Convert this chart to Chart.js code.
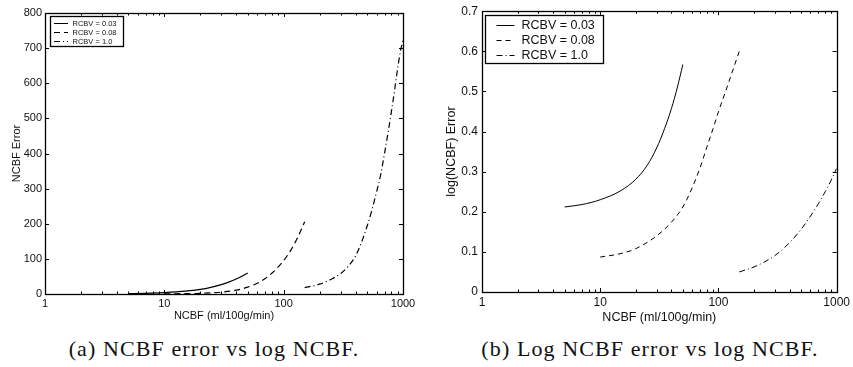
<!DOCTYPE html>
<html>
<head>
<meta charset="utf-8">
<script src="https://cdn.jsdelivr.net/npm/chart.js@4"></script>
<style>
  body { margin: 0; background: #fff; width: 853px; height: 367px; position: relative; overflow: hidden; }
  canvas { position: absolute; top: 0; }
  .cap { position: absolute; top: 338px; font-family: "Liberation Serif", serif; font-size: 22px; line-height: 22px;
         letter-spacing: 1.1px; color: #111; white-space: nowrap; transform: translateX(-50%); }
</style>
</head>
<body>
<canvas id="chartA" width="430" height="323" style="left:0"></canvas>
<canvas id="chartB" width="423" height="325" style="left:430px"></canvas>
<div class="cap" style="left:214px">(a) NCBF error vs log NCBF.</div>
<div class="cap" style="left:650px">(b) Log NCBF error vs log NCBF.</div>
<script>
"use strict"

// ---- data ----
const seriesLabels = ['RCBV = 0.03', 'RCBV = 0.08', 'RCBV = 1.0']
const xTickVals = [1, 10, 100, 1000]

// (a) NCBF error
const ncbfA1 = [5, 7, 10, 15, 20, 25, 30, 35, 40, 45, 50]
const errA1  = [1, 2, 4, 8, 13, 19.7, 26.8, 34.5, 42.6, 51, 60]
const ncbfA2 = [10, 15, 20, 30, 40, 50, 60, 70, 80, 90, 100, 110, 120, 130, 140, 150]
const errA2  = [0.5, 1, 2, 5.2, 10.8, 19.5, 30.6, 44, 59.7, 77, 95.4, 114.7, 136, 158.8, 182.2, 206]
const ncbfA3 = [150, 200, 250, 300, 350, 400, 450, 500, 550, 600, 650, 700, 750, 800, 850, 900, 950, 1000]
const errA3  = [18, 28, 42, 58, 80, 108, 148, 193, 240, 290, 340, 400, 460, 520, 580, 640, 690, 722]
const yTicksA = [0, 100, 200, 300, 400, 500, 600, 700, 800]

// (b) log(NCBF) error
const ncbfB1 = [5, 7, 10, 15, 20, 25, 30, 35, 40, 45, 50]
const errB1  = [0.212, 0.218, 0.230, 0.253, 0.281, 0.316, 0.359, 0.407, 0.457, 0.511, 0.567]
const ncbfB2 = [10, 15, 20, 30, 40, 50, 60, 70, 80, 90, 100, 120, 150]
const errB2  = [0.087, 0.096, 0.108, 0.140, 0.174, 0.212, 0.260, 0.310, 0.362, 0.407, 0.449, 0.516, 0.600]
const ncbfB3 = [150, 200, 300, 400, 500, 600, 700, 800, 900, 1000]
const errB3  = [0.050, 0.0625, 0.0907, 0.1232, 0.156, 0.189, 0.220, 0.250, 0.279, 0.308]
const yTicksB = [0, 0.1, 0.2, 0.3, 0.4, 0.5, 0.6, 0.7]

const FONT = "'Liberation Sans', Arial, sans-serif"

function pts(xs, ys){
    return xs.map((v, i) => ({x: v, y: ys[i]}))
}

// matlab style box with inward ticks on all four sides
const boxTicks = {
    id: 'boxTicks',
    afterDatasetsDraw(chart){
        const ctx = chart.ctx
        const a = chart.chartArea
        const sx = chart.scales.x, sy = chart.scales.y
        ctx.save()
        ctx.strokeStyle = '#000'
        ctx.lineWidth = 1
        ctx.beginPath()
        for (const t of sy.ticks){
            const py = Math.round(sy.getPixelForValue(t.value)) + 0.5
            ctx.moveTo(a.left, py); ctx.lineTo(a.left + 4, py)
            ctx.moveTo(a.right, py); ctx.lineTo(a.right - 4, py)
        }
        for (let d = 1; d <= 1000; d *= 10){
            for (let m = 1; m < 10; m++){
                const v = d * m
                if (v > 1000) break
                const px = Math.round(sx.getPixelForValue(v)) + 0.5
                const len = m == 1 ? 4 : 2.5
                ctx.moveTo(px, a.bottom); ctx.lineTo(px, a.bottom - len)
                ctx.moveTo(px, a.top); ctx.lineTo(px, a.top + len)
            }
        }
        ctx.stroke()
        ctx.lineWidth = 1.3
        ctx.strokeRect(Math.round(a.left) + 0.5, Math.round(a.top) + 0.5, Math.round(a.width), Math.round(a.height))
        ctx.restore()
    }
}

// legend box drawn inside the top-left corner of the plot
const boxLegend = {
    id: 'boxLegend',
    afterDatasetsDraw(chart, args, o){
        const ctx = chart.ctx
        const a = chart.chartArea
        const x0 = Math.round(a.left + o.dx), y0 = Math.round(a.top + o.dy)
        ctx.save()
        ctx.fillStyle = '#fff'
        ctx.fillRect(x0, y0, o.w, o.h)
        ctx.strokeStyle = '#000'
        ctx.lineWidth = 1.3
        ctx.strokeRect(x0 + 0.5, y0 + 0.5, o.w, o.h)
        ctx.font = o.font
        ctx.textBaseline = 'middle'
        chart.data.datasets.forEach((ds, i) => {
            const yy = Math.round(y0 + o.row0 + i * o.rowH) + 0.5
            ctx.setLineDash(ds.borderDash || [])
            ctx.lineWidth = 1
            ctx.beginPath()
            ctx.moveTo(x0 + o.lx, yy)
            ctx.lineTo(x0 + o.lx + o.lw, yy)
            ctx.stroke()
            ctx.setLineDash([])
            ctx.fillStyle = '#111'
            ctx.fillText(ds.label, x0 + o.tx, yy + 0.5)
        })
        ctx.restore()
    }
}

function makeChart(id, data, cfg){
    const dashes = [[], cfg.dash, [6, 3, 1, 3]]
    return new Chart(document.getElementById(id), {
        type: 'line',
        data: {
            datasets: data.map((d, i) => ({
                label: seriesLabels[i],
                data: d,
                borderColor: '#000',
                borderWidth: cfg.lw,
                borderDash: dashes[i],
                pointRadius: 0,
                cubicInterpolationMode: 'monotone',
                fill: false
            }))
        },
        options: {
            responsive: false,
            animation: false,
            layout: { padding: { top: cfg.padTop, right: cfg.padRight, left: 0, bottom: 0 } },
            scales: {
                x: {
                    type: 'logarithmic',
                    min: 1, max: 1000,
                    afterBuildTicks: (s) => { s.ticks = xTickVals.map(v => ({value: v})) },
                    afterFit: (s) => { s.height = cfg.xH },
                    grid: { display: false, drawTicks: false },
                    border: { display: false },
                    ticks: { padding: 3, maxRotation: 0, autoSkip: false, color: '#111',
                             font: { family: FONT, size: cfg.tickSize }, callback: (v) => String(v) },
                    title: { display: true, text: 'NCBF (ml/100g/min)', color: '#111', padding: 0,
                             font: { family: FONT, size: cfg.titleSize } }
                },
                y: {
                    min: 0, max: cfg.yTicks[cfg.yTicks.length - 1],
                    afterBuildTicks: (s) => { s.ticks = cfg.yTicks.map(v => ({value: v})) },
                    afterFit: (s) => { s.width = cfg.yW },
                    grid: { display: false, drawTicks: false },
                    border: { display: false },
                    ticks: { padding: cfg.yPad, color: '#111', font: { family: FONT, size: cfg.tickSize },
                             callback: cfg.yFmt },
                    title: { display: true, text: cfg.yTitle, color: '#111', padding: { top: cfg.yTitlePad, bottom: 0 },
                             font: { family: FONT, size: cfg.titleSize } }
                }
            },
            plugins: {
                legend: { display: false },
                tooltip: { enabled: false },
                boxLegend: cfg.legend
            }
        },
        plugins: [boxTicks, boxLegend]
    })
}

let chartA = makeChart('chartA',
    [pts(ncbfA1, errA1), pts(ncbfA2, errA2), pts(ncbfA3, errA3)],
    {
        dash: [6, 4], lw: 1.2, yTicks: yTicksA, yTitle: 'NCBF Error',
        padTop: 13, padRight: 27, yW: 45, xH: 29, yPad: 3, yTitlePad: 10,
        tickSize: 11, titleSize: 11,
        yFmt: (v) => String(v),
        legend: { dx: 5, dy: 3, w: 73, h: 30, row0: 6.5, rowH: 9.4, lx: 4, lw: 14, tx: 22.5,
                  font: "7.5px 'Liberation Sans', Arial, sans-serif" }
    })

let chartB = makeChart('chartB',
    [pts(ncbfB1, errB1), pts(ncbfB2, errB2), pts(ncbfB3, errB3)],
    {
        dash: [5, 4], lw: 1, yTicks: yTicksB, yTitle: 'log(NCBF) Error',
        padTop: 9, padRight: 14, yW: 52, xH: 33, yPad: 4, yTitlePad: 14,
        tickSize: 12, titleSize: 12.5,
        yFmt: (v) => v === 0 ? '0' : v.toFixed(1),
        legend: { dx: 3, dy: 4, w: 118, h: 48, row0: 9.7, rowH: 15, lx: 11.5, lw: 18, tx: 36.5,
                  font: "12.5px 'Liberation Sans', Arial, sans-serif" }
    })
</script>
</body>
</html>
